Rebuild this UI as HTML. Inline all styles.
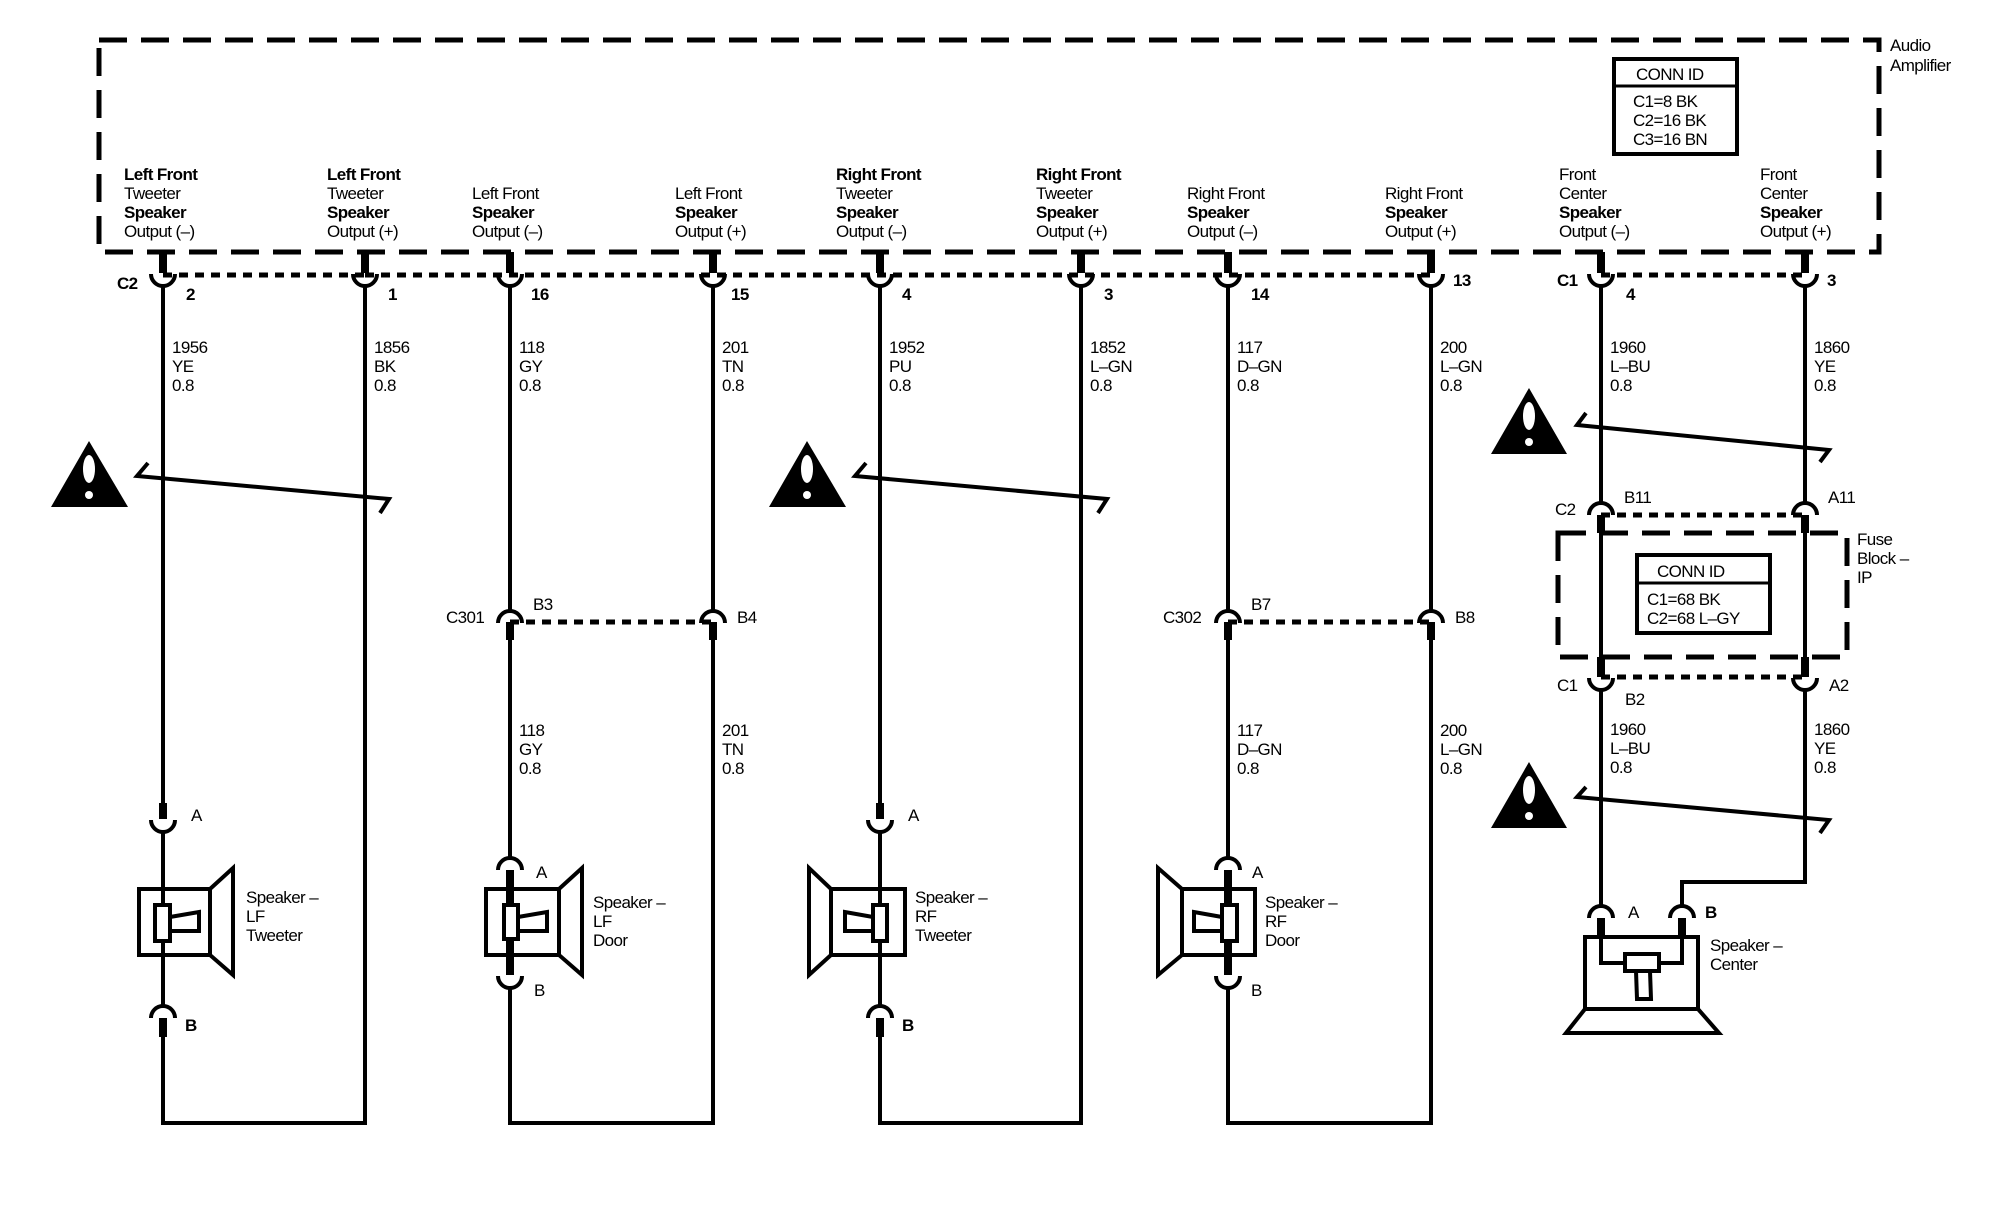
<!DOCTYPE html>
<html><head><meta charset="utf-8"><style>
html,body{margin:0;padding:0;background:#fff}
svg{display:block}
text{font-family:"Liberation Sans",sans-serif;fill:#000;font-size:17px;letter-spacing:-0.6px}
.b{font-weight:bold}
.w{stroke:#000;stroke-width:4;fill:none}
.t{stroke:#000;stroke-width:8;fill:none}
.c{stroke:#000;stroke-width:4;fill:none}
.d{stroke:#000;stroke-width:5;fill:none;stroke-dasharray:9 7}
.box{stroke:#000;stroke-width:5;fill:none;stroke-dasharray:28 14}
</style></head><body>
<svg width="2000" height="1216" viewBox="0 0 2000 1216" xmlns="http://www.w3.org/2000/svg">
<!-- Audio amplifier box -->
<rect x="99" y="40" width="1780" height="212" class="box"/>
<text x="1890" y="51">Audio</text><text x="1890" y="71">Amplifier</text>
<rect x="1614" y="59" width="123" height="95" fill="none" stroke="#000" stroke-width="4"/>
<line x1="1614" y1="86" x2="1737" y2="86" stroke="#000" stroke-width="3"/>
<text x="1636" y="80">CONN ID</text>
<text x="1633" y="107">C1=8 BK</text><text x="1633" y="126">C2=16 BK</text><text x="1633" y="145">C3=16 BN</text>

<!-- header labels -->
<g>
<text x="124" y="180" class="b">Left Front</text><text x="124" y="199">Tweeter</text><text x="124" y="218" class="b">Speaker</text><text x="124" y="237">Output (–)</text>
<text x="327" y="180" class="b">Left Front</text><text x="327" y="199">Tweeter</text><text x="327" y="218" class="b">Speaker</text><text x="327" y="237">Output (+)</text>
<text x="472" y="199">Left Front</text><text x="472" y="218" class="b">Speaker</text><text x="472" y="237">Output (–)</text>
<text x="675" y="199">Left Front</text><text x="675" y="218" class="b">Speaker</text><text x="675" y="237">Output (+)</text>
<text x="836" y="180" class="b">Right Front</text><text x="836" y="199">Tweeter</text><text x="836" y="218" class="b">Speaker</text><text x="836" y="237">Output (–)</text>
<text x="1036" y="180" class="b">Right Front</text><text x="1036" y="199">Tweeter</text><text x="1036" y="218" class="b">Speaker</text><text x="1036" y="237">Output (+)</text>
<text x="1187" y="199">Right Front</text><text x="1187" y="218" class="b">Speaker</text><text x="1187" y="237">Output (–)</text>
<text x="1385" y="199">Right Front</text><text x="1385" y="218" class="b">Speaker</text><text x="1385" y="237">Output (+)</text>
<text x="1559" y="180">Front</text><text x="1559" y="199">Center</text><text x="1559" y="218" class="b">Speaker</text><text x="1559" y="237">Output (–)</text>
<text x="1760" y="180">Front</text><text x="1760" y="199">Center</text><text x="1760" y="218" class="b">Speaker</text><text x="1760" y="237">Output (+)</text>
</g>

<!-- top connectors -->
<g>
<line x1="163" y1="275" x2="365" y2="275" class="d"/>
<line x1="365" y1="275" x2="1431" y2="275" class="d"/>
<line x1="1601" y1="275" x2="1805" y2="275" class="d"/>
</g>
<g id="tops">
<!-- per wire: stub, cup -->
</g>
<g>
<path d="M163 252V273M365 252V273M510 252V273M713 252V273M880 252V273M1081 252V273M1228 252V273M1431 252V273M1601 252V273M1805 252V273" class="t"/>
<path d="M151 274A12 12 0 0 0 175 274M353 274A12 12 0 0 0 377 274M498 274A12 12 0 0 0 522 274M701 274A12 12 0 0 0 725 274M868 274A12 12 0 0 0 892 274M1069 274A12 12 0 0 0 1093 274M1216 274A12 12 0 0 0 1240 274M1419 274A12 12 0 0 0 1443 274M1589 274A12 12 0 0 0 1613 274M1793 274A12 12 0 0 0 1817 274" class="c"/>
</g>
<text x="117" y="289" class="b">C2</text>
<text x="186" y="300" class="b">2</text><text x="388" y="300" class="b">1</text><text x="531" y="300" class="b">16</text><text x="731" y="300" class="b">15</text><text x="902" y="300" class="b">4</text>
<text x="1104" y="300" class="b">3</text><text x="1251" y="300" class="b">14</text><text x="1453" y="286" class="b">13</text><text x="1557" y="286" class="b">C1</text><text x="1626" y="300" class="b">4</text><text x="1827" y="286" class="b">3</text>

<!-- wire labels upper -->
<g>
<text x="172" y="353">1956</text><text x="172" y="372">YE</text><text x="172" y="391">0.8</text>
<text x="374" y="353">1856</text><text x="374" y="372">BK</text><text x="374" y="391">0.8</text>
<text x="519" y="353">118</text><text x="519" y="372">GY</text><text x="519" y="391">0.8</text>
<text x="722" y="353">201</text><text x="722" y="372">TN</text><text x="722" y="391">0.8</text>
<text x="889" y="353">1952</text><text x="889" y="372">PU</text><text x="889" y="391">0.8</text>
<text x="1090" y="353">1852</text><text x="1090" y="372">L–GN</text><text x="1090" y="391">0.8</text>
<text x="1237" y="353">117</text><text x="1237" y="372">D–GN</text><text x="1237" y="391">0.8</text>
<text x="1440" y="353">200</text><text x="1440" y="372">L–GN</text><text x="1440" y="391">0.8</text>
<text x="1610" y="353">1960</text><text x="1610" y="372">L–BU</text><text x="1610" y="391">0.8</text>
<text x="1814" y="353">1860</text><text x="1814" y="372">YE</text><text x="1814" y="391">0.8</text>
</g>

<!-- main wires -->
<g class="w">
<path d="M163 286V803"/><path d="M163 833V1007"/><path d="M163 1037V1123H365V286"/>
<path d="M510 286V610"/><path d="M510 640V857"/><path d="M510 988V1123H713V640"/><path d="M713 286V610"/>
<path d="M880 286V803"/><path d="M880 833V1007"/><path d="M880 1037V1123H1081V286"/>
<path d="M1228 286V610"/><path d="M1228 640V857"/><path d="M1228 988V1123H1431V640"/><path d="M1431 286V610"/>
<path d="M1601 286V502"/><path d="M1805 286V502"/>
<path d="M1601 690V905"/><path d="M1805 690V882H1682V905"/>
</g>

<!-- warning triangles -->
<g>
<g transform="translate(51,441)"><polygon points="38,0 77,66 0,66" fill="#000"/><ellipse cx="38" cy="28" rx="6" ry="14" fill="#fff"/><circle cx="38" cy="54" r="4" fill="#fff"/></g>
<g transform="translate(769,441)"><polygon points="38,0 77,66 0,66" fill="#000"/><ellipse cx="38" cy="28" rx="6" ry="14" fill="#fff"/><circle cx="38" cy="54" r="4" fill="#fff"/></g>
<g transform="translate(1491,388)"><polygon points="38,0 76,66 0,66" fill="#000"/><ellipse cx="38" cy="28" rx="6" ry="14" fill="#fff"/><circle cx="38" cy="54" r="4" fill="#fff"/></g>
<g transform="translate(1491,762)"><polygon points="38,0 76,66 0,66" fill="#000"/><ellipse cx="38" cy="28" rx="6" ry="14" fill="#fff"/><circle cx="38" cy="54" r="4" fill="#fff"/></g>
</g>
<!-- twisted pair marks -->
<g class="w">
<path d="M148 463L137 476L389 499L380 513"/>
<path d="M866 463L855 476L1107 499L1098 513"/>
<path d="M1586 413L1577 425L1829 450L1820 462"/>
<path d="M1586 787L1577 797L1829 820L1820 833"/>
</g>

<!-- C301 / C302 -->
<line x1="510" y1="622" x2="713" y2="622" class="d"/>
<line x1="1228" y1="622" x2="1431" y2="622" class="d"/>
<path d="M510 622V640M713 622V640M1228 622V640M1431 622V640" class="t"/>
<path d="M498 623A12 12 0 0 1 522 623M701 623A12 12 0 0 1 725 623M1216 623A12 12 0 0 1 1240 623M1419 623A12 12 0 0 1 1443 623" class="c"/>
<text x="446" y="623">C301</text><text x="533" y="610">B3</text><text x="737" y="623">B4</text>
<text x="1163" y="623">C302</text><text x="1251" y="610">B7</text><text x="1455" y="623">B8</text>

<!-- lower wire labels -->
<g>
<text x="519" y="736">118</text><text x="519" y="755">GY</text><text x="519" y="774">0.8</text>
<text x="722" y="736">201</text><text x="722" y="755">TN</text><text x="722" y="774">0.8</text>
<text x="1237" y="736">117</text><text x="1237" y="755">D–GN</text><text x="1237" y="774">0.8</text>
<text x="1440" y="736">200</text><text x="1440" y="755">L–GN</text><text x="1440" y="774">0.8</text>
<text x="1610" y="735">1960</text><text x="1610" y="754">L–BU</text><text x="1610" y="773">0.8</text>
<text x="1814" y="735">1860</text><text x="1814" y="754">YE</text><text x="1814" y="773">0.8</text>
</g>

<!-- Fuse block -->
<line x1="1601" y1="515" x2="1805" y2="515" class="d"/>
<path d="M1589 515A12 12 0 0 1 1613 515M1793 515A12 12 0 0 1 1817 515" class="c"/>
<path d="M1601 515V533M1805 515V533M1601 657V677M1805 657V677" class="t"/>
<path d="M1601 533V657M1805 533V657" class="w"/>
<rect x="1558" y="533" width="289" height="124" class="box"/>
<text x="1555" y="515">C2</text><text x="1624" y="503">B11</text><text x="1828" y="503">A11</text>
<text x="1857" y="545">Fuse</text><text x="1857" y="564">Block –</text><text x="1857" y="583">IP</text>
<rect x="1637" y="555" width="133" height="78" fill="none" stroke="#000" stroke-width="4"/>
<line x1="1637" y1="583" x2="1770" y2="583" stroke="#000" stroke-width="3"/>
<text x="1657" y="577">CONN ID</text>
<text x="1647" y="605">C1=68 BK</text><text x="1647" y="624">C2=68 L–GY</text>
<line x1="1601" y1="677" x2="1805" y2="677" class="d"/>
<path d="M1589 678A12 12 0 0 0 1613 678M1793 678A12 12 0 0 0 1817 678" class="c"/>
<text x="1557" y="691">C1</text><text x="1625" y="705">B2</text><text x="1829" y="691">A2</text>

<!-- LF tweeter -->
<g>
<path d="M163 803V819M880 803V819" class="t"/>
<path d="M151 820A12 12 0 0 0 175 820M868 820A12 12 0 0 0 892 820" class="c"/>
<text x="191" y="821">A</text><text x="908" y="821">A</text>
<path d="M151 1018A12 12 0 0 1 175 1018M868 1018A12 12 0 0 1 892 1018" class="c"/>
<path d="M163 1018V1037M880 1018V1037" class="t"/>
<text x="185" y="1031" class="b">B</text><text x="902" y="1031" class="b">B</text>
<rect x="139" y="889" width="71" height="66" fill="none" stroke="#000" stroke-width="4"/>
<polygon points="210,889 233,868 233,975 210,955" fill="none" stroke="#000" stroke-width="4"/>
<rect x="155" y="905" width="15" height="36" fill="#fff" stroke="#000" stroke-width="4"/>
<polygon points="170,917 199,912 199,931 170,931" fill="none" stroke="#000" stroke-width="4"/>
<text x="246" y="903">Speaker –</text><text x="246" y="922">LF</text><text x="246" y="941">Tweeter</text>
<!-- RF tweeter -->
<rect x="831" y="889" width="74" height="66" fill="none" stroke="#000" stroke-width="4"/>
<polygon points="831,889 809,868 809,975 831,955" fill="none" stroke="#000" stroke-width="4"/>
<rect x="873" y="905" width="14" height="36" fill="#fff" stroke="#000" stroke-width="4"/>
<polygon points="873,917 845,912 845,931 873,931" fill="none" stroke="#000" stroke-width="4"/>
<text x="915" y="903">Speaker –</text><text x="915" y="922">RF</text><text x="915" y="941">Tweeter</text>
</g>

<!-- Door speakers -->
<g>
<path d="M498 870A12 12 0 0 1 522 870M1216 870A12 12 0 0 1 1240 870" class="c"/>
<path d="M510 870V975M1228 870V975" class="t"/>
<path d="M498 976A12 12 0 0 0 522 976M1216 976A12 12 0 0 0 1240 976" class="c"/>
<text x="536" y="878">A</text><text x="534" y="996">B</text>
<text x="1252" y="878">A</text><text x="1251" y="996">B</text>
<rect x="486" y="889" width="73" height="66" fill="none" stroke="#000" stroke-width="4"/>
<polygon points="559,889 582,868 582,975 559,955" fill="none" stroke="#000" stroke-width="4"/>
<rect x="504" y="905" width="14" height="34" fill="#fff" stroke="#000" stroke-width="4"/>
<polygon points="518,917 547,912 547,931 518,931" fill="none" stroke="#000" stroke-width="4"/>
<text x="593" y="908">Speaker –</text><text x="593" y="927">LF</text><text x="593" y="946">Door</text>
<rect x="1182" y="889" width="73" height="66" fill="none" stroke="#000" stroke-width="4"/>
<polygon points="1182,889 1158,868 1158,975 1182,955" fill="none" stroke="#000" stroke-width="4"/>
<rect x="1222" y="905" width="15" height="36" fill="#fff" stroke="#000" stroke-width="4"/>
<polygon points="1222,917 1194,912 1194,931 1222,931" fill="none" stroke="#000" stroke-width="4"/>
<text x="1265" y="908">Speaker –</text><text x="1265" y="927">RF</text><text x="1265" y="946">Door</text>
</g>

<!-- Center speaker -->
<g>
<path d="M1589 918A12 12 0 0 1 1613 918M1670 918A12 12 0 0 1 1694 918" class="c"/>
<path d="M1601 918V937M1682 918V937" class="t"/>
<text x="1628" y="918">A</text><text x="1705" y="918" class="b">B</text>
<rect x="1585" y="937" width="113" height="72" fill="none" stroke="#000" stroke-width="4"/>
<path d="M1601 937V963H1625M1682 937V963H1659" class="w"/>
<rect x="1625" y="954" width="34" height="17" fill="#fff" stroke="#000" stroke-width="4"/>
<polygon points="1636,971 1650,971 1651,999 1637,999" fill="none" stroke="#000" stroke-width="4"/>
<polygon points="1585,1009 1698,1009 1719,1033 1566,1033" fill="none" stroke="#000" stroke-width="4"/>
<text x="1710" y="951">Speaker –</text><text x="1710" y="970">Center</text>
</g>
</svg>
</body></html>
